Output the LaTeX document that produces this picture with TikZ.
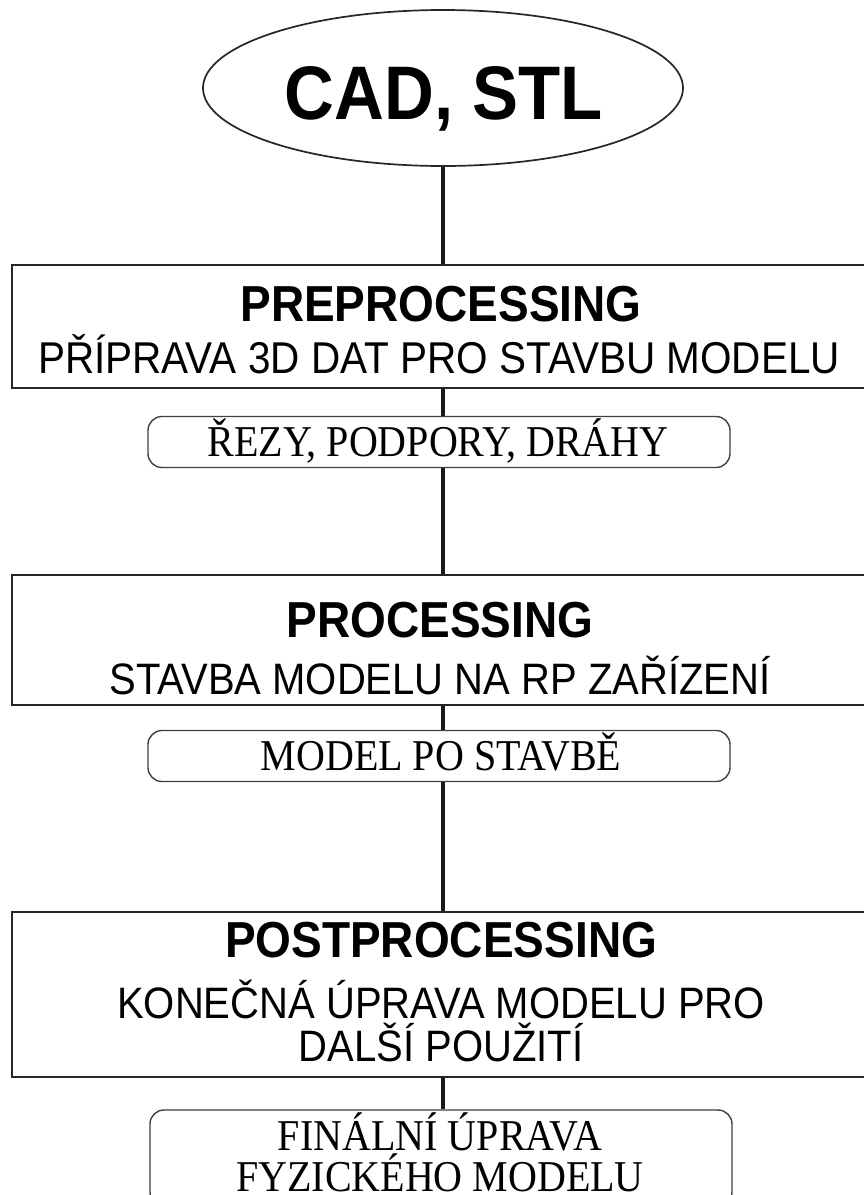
\documentclass[tikz,border=0pt]{standalone}
\usepackage{fontspec}
\usepackage{graphicx}
\setmainfont{Liberation Serif}
\newfontfamily\arial{Liberation Sans}
\usetikzlibrary{shapes.geometric}
\newcommand\talltext[1]{\scalebox{1}[1.1]{#1}}
\begin{document}
\begin{tikzpicture}[x=1pt,y=-1pt,
  phase/.style={draw=black!85,line width=2.7pt,minimum width=858pt,inner sep=0pt},
  sub/.style={draw=black!75,line width=1.4pt,rounded corners=14pt,minimum width=582pt,inner sep=0pt},
  head/.style={font=\arial\bfseries\fontsize{46}{50}\selectfont,inner sep=0pt,anchor=base},
  desc/.style={font=\arial\fontsize{40}{44}\selectfont,inner sep=0pt,anchor=base},
  serif/.style={font=\fontsize{40}{40}\selectfont,inner sep=0pt,anchor=base},
  conn/.style={line width=3.6pt,black!90}]
\useasboundingbox (0,0) rectangle (864,1195);
\fill[white] (0,0) rectangle (864,1195);

\node[ellipse,draw=black!85,line width=1.7pt,minimum width=480pt,minimum height=156pt,inner sep=0pt] (cad) at (443,88) {};
\node[font=\arial\bfseries\fontsize{69}{70}\selectfont,inner sep=0pt,anchor=base] (cadt) at (444,119) {\talltext{CAD, STL}};

\node[phase,minimum height=123pt] (pre) at (441,326.5) {};
\node[head] (pret) at (441,321) {\talltext{PREPROCESSING}};
\node[desc,font=\arial\fontsize{40.5}{44}\selectfont] (pred) at (439,373) {\talltext{PŘÍPRAVA 3D DAT PRO STAVBU MODELU}};

\node[sub,minimum height=51pt] (s1) at (439,442) {};
\node[serif] (s1t) at (438,456) {\talltext{ŘEZY, PODPORY, DRÁHY}};

\node[phase,minimum height=130pt] (pro) at (441,640) {};
\node[head] (prot) at (440,637) {\talltext{PROCESSING}};
\node[desc] (prod) at (440,694) {\talltext{STAVBA MODELU NA RP ZAŘÍZENÍ}};

\node[sub,minimum height=51pt] (s2) at (439,756) {};
\node[serif] (s2t) at (441,770) {\talltext{MODEL PO STAVBĚ}};

\node[phase,minimum height=165pt] (post) at (441,994.5) {};
\node[head] (postt) at (441,957) {\talltext{POSTPROCESSING}};
\node[desc] (postd1) at (441,1018) {\talltext{KONEČNÁ ÚPRAVA MODELU PRO}};
\node[desc] (postd2) at (441,1061) {\talltext{DALŠÍ POUŽITÍ}};

\node[sub,minimum height=96pt] (s3) at (441,1158) {};
\node[serif] (s3a) at (440,1150) {\talltext{FINÁLNÍ ÚPRAVA}};
\node[serif] (s3b) at (440,1191) {\talltext{FYZICKÉHO MODELU}};

\draw[conn] (cad.south) -- (cad.south |- pre.north);
\draw[conn] (cad.south |- pre.south) -- (cad.south |- s1.north);
\draw[conn] (cad.south |- s1.south) -- (cad.south |- pro.north);
\draw[conn] (cad.south |- pro.south) -- (cad.south |- s2.north);
\draw[conn] (cad.south |- s2.south) -- (cad.south |- post.north);
\draw[conn] (cad.south |- post.south) -- (cad.south |- s3.north);
\end{tikzpicture}
\end{document}
